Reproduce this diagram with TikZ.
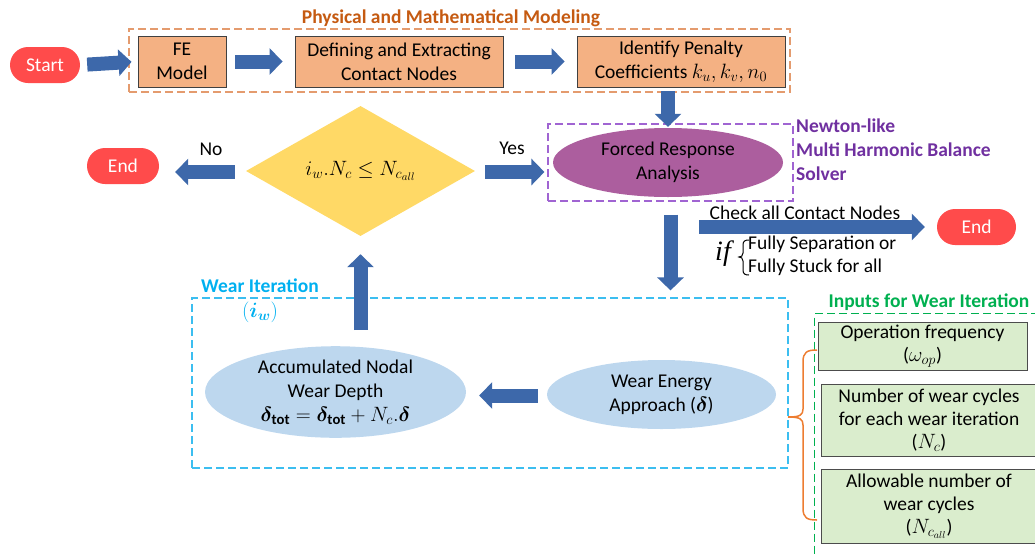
\documentclass[tikz,border=0pt]{standalone}
\usepackage{amsmath,bm}
\usepackage{fontspec}
\setmainfont{Carlito}
\newfontfamily\ifserif{Liberation Serif}
\usetikzlibrary{shapes.geometric,arrows.meta}
\definecolor{arrowblue}{RGB}{61,104,170}
\definecolor{pillred}{RGB}{255,75,75}
\definecolor{boxorange}{RGB}{244,177,131}
\definecolor{dashorange}{RGB}{228,155,110}
\definecolor{titleorange}{RGB}{197,90,17}
\definecolor{ellpurple}{RGB}{172,94,158}
\definecolor{dashpurple}{RGB}{160,100,210}
\definecolor{titlepurple}{RGB}{112,48,160}
\definecolor{diayellow}{RGB}{255,217,102}
\definecolor{ellblue}{RGB}{189,215,238}
\definecolor{cyanline}{RGB}{60,190,240}
\definecolor{titlecyan}{RGB}{0,176,240}
\definecolor{boxgreen}{RGB}{218,237,205}
\definecolor{titlegreen}{RGB}{0,176,80}
\definecolor{braceorange}{RGB}{237,125,49}
\tikzset{
  txt/.style={font=\fontsize{19.5}{24}\selectfont, align=center, inner sep=0},
  ttl/.style={font=\fontsize{19.5}{24}\selectfont\bfseries, inner sep=0},
  pill/.style={txt, fill=pillred, rounded corners=18pt, text=white, minimum height=36pt},
  obox/.style={txt, draw=black!75, fill=boxorange, line width=0.9pt, minimum height=51pt},
  gbox/.style={txt, draw=black!70, fill=boxgreen, line width=0.9pt, font=\fontsize{19.5}{23}\selectfont},
  bell/.style={txt, ellipse, fill=ellblue},
  grp/.style={inner sep=0, line width=1.2pt, dash pattern=on 8pt off 4pt},
  blockarrow/.style={draw=arrowblue, line width=14pt, -{Triangle[width=26pt,length=13pt]}},
}
\begin{document}
\begin{tikzpicture}[x=1pt,y=-1pt]
\useasboundingbox (0,0) rectangle (1035,555);
\clip (0,0) rectangle (1035,555);
% groups
\node[grp, draw=dashorange, minimum width=661pt, minimum height=63pt] (phys) at (459.5,60.5) {};
\node[ttl, text=titleorange] (physt) at (451,18) {Physical and Mathematical Modeling};
\node[grp, draw=dashpurple, minimum width=245pt, minimum height=77pt] (pbox) at (670.5,162.5) {};
\node[grp, draw=cyanline, minimum width=596pt, minimum height=170pt] (cbox) at (490,383) {};
\node[grp, draw=titlegreen, minimum width=240pt, minimum height=260pt, anchor=north west] (gbox) at (814,313) {};
% top row
\node[pill, minimum width=70pt] (start) at (45,65) {Start};
\node[obox, minimum width=88pt] (fe) at (182,61.5) {FE\\Model};
\node[obox, minimum width=208pt] (def) at (399,61.5) {Defining and Extracting\\Contact Nodes};
\node[obox, minimum width=208pt] (pen) at (681,61.5) {Identify Penalty\\Coefficients $k_u, k_v, n_0$};
% middle
\node[txt, ellipse, fill=ellpurple, minimum width=230pt, minimum height=69pt] (forced) at (668,162.5) {Forced Response\\Analysis};
\node[txt, text=titlepurple, font=\fontsize{19.5}{24}\selectfont\bfseries, align=left, anchor=west] (newton) at (796,150) {Newton-like\\Multi Harmonic Balance\\Solver};
\node[txt, diamond, fill=diayellow, minimum width=229pt, minimum height=74pt, font=\fontsize{22}{24}\selectfont] (dia) at (360.5,171) {$i_w.N_c \le N_{c_{all}}$};
\node[pill, minimum width=72pt] (end1) at (123,166) {End};
\node[pill, minimum width=79pt] (end2) at (976.5,227) {End};
\node[txt] (yes) at (512,148) {Yes};
\node[txt] (no) at (211,149) {No};
\node[txt] (chkt) at (805,213) {Check all Contact Nodes};
\node[txt, font=\fontsize{28}{28}\selectfont\ifserif\itshape] (iff) at (723,254) {if};
\node[txt, anchor=west] (fs1) at (748,244) {Fully Separation or};
\node[txt, anchor=west] (fs2) at (748,267) {Fully Stuck for all};
\coordinate (chk) at (699,227);
% bottom
\node[txt, text=titlecyan, font=\fontsize{19.5}{24}\selectfont\bfseries] (wit) at (260,286) {Wear Iteration};
\node[txt, text=titlecyan, font=\fontsize{21}{24}\selectfont] (witm) at (260,312) {$(\bm{i_w})$};
\node[bell, minimum width=261pt, minimum height=70pt] (accum) at (335.5,392) {Accumulated Nodal\\Wear Depth\\{\fontsize{21}{24}\selectfont$\bm{\delta}_{\mathbf{tot}} = \bm{\delta}_{\mathbf{tot}} + N_c.\bm{\delta}$}};
\node[bell, minimum width=229pt, minimum height=69pt] (wear) at (661.5,394.5) {Wear Energy\\Approach ($\bm{\delta}$)};
% inputs
\node[ttl, text=titlegreen] (inpt) at (929,302) {Inputs for Wear Iteration};
\node[gbox, minimum width=209pt, minimum height=48pt] (g1) at (922.5,346) {Operation frequency\\($\omega_{op}$)};
\node[gbox, minimum width=216pt, minimum height=72pt] (g2) at (929,420) {Number of wear cycles\\for each wear iteration\\($N_c$)};
\node[gbox, minimum width=216pt, minimum height=74pt] (g3) at (929,506) {Allowable number of\\wear cycles\\($N_{c_{all}}$)};
% braces
\draw[braceorange, line width=1.5pt] (817,350) .. controls (807,350) and (803,352) .. (803,362) -- (803,409) .. controls (803,415) and (800,417) .. (788,417);
\draw[braceorange, line width=1.5pt] (817,520) .. controls (807,520) and (803,518) .. (803,508) -- (803,425) .. controls (803,419) and (800,417) .. (788,417);
\draw[black, line width=1pt] (749,240) .. controls (745,240) and (743,241) .. (743,245) -- (743,253) .. controls (743,256) and (741,257) .. (739,257) .. controls (741,257) and (743,258) .. (743,261) -- (743,270) .. controls (743,274) and (745,275) .. (749,275);
% arrows
\draw[blockarrow, shorten <=7pt, shorten >=6pt] (start.east) -- (fe.west);
\draw[blockarrow, shorten <=9pt, shorten >=12pt] (fe.east) -- (def.west);
\draw[blockarrow, shorten <=12pt, shorten >=12pt] (def.east) -- (pen.west);
\draw[blockarrow, shorten <=4pt, shorten >=1pt] (pen.south -| forced.north) -- (forced.north);
\draw[blockarrow, shorten <=10pt, shorten >=3pt] ([yshift=-1pt]dia.east) -- ([yshift=-1pt]dia.east -| pbox.west);
\draw[blockarrow, shorten <=11pt, shorten >=16pt] ([yshift=-1pt]dia.west) -- ([yshift=-1pt]dia.west -| end1.east);
\draw[blockarrow, shorten >=12pt] (chk) -- (end2.west);
\draw[blockarrow, shorten <=13pt, shorten >=7pt] (pbox.south) -- (pbox.south |- cbox.north);
\draw[blockarrow, shorten <=9pt, shorten >=13pt] ([yshift=-1pt]wear.west) -- ([yshift=-1pt]wear.west -| accum.east);
\draw[blockarrow, shorten <=16pt, shorten >=18pt] (dia.south |- accum.north) -- (dia.south);
\end{tikzpicture}
\end{document}
